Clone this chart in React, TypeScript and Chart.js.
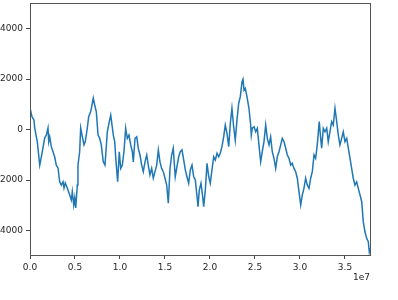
import React, { useEffect, useRef } from "react";
import { Chart, registerables } from "chart.js";

Chart.register(...registerables);

// x in units of 1e7 steps
const xs = [
  0.0, 0.022, 0.044, 0.052, 0.081, 0.108, 0.126, 0.144, 0.163, 0.181,
  0.2, 0.208, 0.219, 0.237, 0.256, 0.274, 0.292, 0.311, 0.33, 0.348,
  0.367, 0.378, 0.392, 0.414, 0.441, 0.459, 0.47, 0.486, 0.497, 0.508,
  0.526, 0.533, 0.552, 0.563, 0.578, 0.6, 0.614, 0.637, 0.652, 0.674,
  0.689, 0.703, 0.719, 0.737, 0.756, 0.774, 0.792, 0.814, 0.833, 0.844,
  0.859, 0.881, 0.897, 0.911, 0.926, 0.941, 0.956, 0.974, 0.992, 1.008,
  1.026, 1.044, 1.063, 1.081, 1.1, 1.119, 1.137, 1.148, 1.167, 1.186,
  1.203, 1.222, 1.241, 1.259, 1.278, 1.297, 1.314, 1.333, 1.352, 1.37,
  1.389, 1.408, 1.426, 1.444, 1.463, 1.481, 1.5, 1.519, 1.537, 1.556,
  1.574, 1.592, 1.614, 1.633, 1.652, 1.67, 1.689, 1.708, 1.726, 1.744,
  1.763, 1.781, 1.8, 1.819, 1.837, 1.856, 1.867, 1.881, 1.9, 1.919,
  1.93, 1.948, 1.967, 1.986, 2.003, 2.022, 2.041, 2.059, 2.078, 2.097,
  2.114, 2.133, 2.152, 2.17, 2.189, 2.208, 2.226, 2.244, 2.263, 2.281,
  2.3, 2.319, 2.337, 2.356, 2.367, 2.378, 2.392, 2.411, 2.433, 2.452,
  2.459, 2.47, 2.489, 2.508, 2.526, 2.544, 2.563, 2.581, 2.6, 2.619,
  2.637, 2.656, 2.674, 2.692, 2.711, 2.73, 2.748, 2.767, 2.786, 2.803,
  2.822, 2.841, 2.859, 2.878, 2.897, 2.914, 2.933, 2.952, 2.97, 2.989,
  3.008, 3.026, 3.044, 3.063, 3.081, 3.1, 3.119, 3.137, 3.156, 3.174,
  3.192, 3.214, 3.23, 3.241, 3.259, 3.278, 3.297, 3.314, 3.333, 3.352,
  3.37, 3.389, 3.408, 3.426, 3.444, 3.463, 3.481, 3.5, 3.519, 3.537,
  3.556, 3.574, 3.592, 3.611, 3.63, 3.648, 3.667, 3.686, 3.703, 3.722,
  3.741, 3.759, 3.77, 3.778,
];

const ys = [
  850, 510, 380, 60, -480, -1410, -1080, -730, -340, -220,
  60, -480, -290, -680, -880, -1080, -1410, -1520, -2070, -2200,
  -2070, -2320, -2120, -2320, -2590, -2790, -2460, -2990, -2710, -3110,
  -2200, -1410, -880, 60, -220, -610, -480, 60, 510, 700,
  970, 1240, 970, 700, -220, -340, -610, -1280, -1410, -880,
  -90, 310, 570, 180, -220, -480, -1280, -2070, -880, -1540,
  -1410, -880, 50, -350, -220, -610, -880, -1280, -350, -290,
  -740, -1010, -1410, -1670, -1280, -1010, -1410, -1800, -1540, -1930,
  -1670, -1410, -810, -1280, -1540, -1670, -1930, -2200, -2920, -1540,
  -1010, -740, -1870, -1470, -1080, -880, -810, -1210, -1600, -1870,
  -2130, -1600, -1410, -1870, -2000, -2660, -3060, -2400, -2130, -2660,
  -3060, -2400, -1340, -1870, -2130, -1600, -1080, -1210, -940, -1080,
  -940, -680, -290, 180, -150, -680, 250, 840, 110, -420,
  380, 1040, 1300, 1890, 1990, 1560, 1630, 1300, 840, 180,
  -220, 50, 110, -90, 50, -610, -1280, -880, -480, 180,
  -350, -610, -290, -880, -1140, -1540, -1080, -880, -610, -350,
  -480, -740, -1010, -1140, -1410, -1340, -1540, -1670, -1930, -2460,
  -2990, -2590, -2330, -1930, -2200, -2330, -1930, -1670, -1010, -1140,
  -610, 310, -350, -740, 50, -90, 50, -480, -90, 310,
  180, 840, 310, -220, -610, -350, -90, -480, -350, -740,
  -1140, -1540, -1930, -2200, -2070, -2330, -2590, -2860, -3650, -4050,
  -4310, -4440, -4840, -4690,
];

const xTicks = [0.0, 0.5, 1.0, 1.5, 2.0, 2.5, 3.0, 3.5];
const yTicks = [-4000, -2000, 0, 2000, 4000];
const xOffsetLabel = "1e7";

const X_MIN = 0;
const X_MAX = 3.778;
const Y_MIN = -4970;
const Y_MAX = 5010;

const FONT = "'DejaVu Sans', sans-serif";

const framePlugin = {
  id: "frameAndOffset",
  afterDraw(chart: any) {
    const { ctx, chartArea } = chart;
    ctx.save();
    ctx.strokeStyle = "#555";
    ctx.lineWidth = 1;
    ctx.strokeRect(
      Math.round(chartArea.left) + 0.5,
      Math.round(chartArea.top) + 0.5,
      Math.round(chartArea.right - chartArea.left),
      Math.round(chartArea.bottom - chartArea.top)
    );
    ctx.fillStyle = "#262626";
    ctx.font = `9px ${FONT}`;
    ctx.textAlign = "right";
    ctx.textBaseline = "middle";
    ctx.fillText(xOffsetLabel, chartArea.right, chartArea.bottom + 23);
    ctx.restore();
  },
};

export default function App() {
  const ref = useRef<HTMLCanvasElement | null>(null);
  useEffect(() => {
    if (!ref.current) return;
    const data = xs.map((x, i) => ({ x, y: ys[i] }));
    const chart = new Chart(ref.current, {
      type: "line",
      data: {
        datasets: [
          {
            data,
            borderColor: "#1f77b4",
            borderWidth: 1.5,
            pointRadius: 0,
            tension: 0,
            fill: false,
          },
        ],
      },
      options: {
        animation: false,
        responsive: false,
        maintainAspectRatio: false,
        layout: { padding: { left: 0, right: 28, top: 3, bottom: 0 } },
        plugins: { legend: { display: false }, tooltip: { enabled: false } },
        scales: {
          x: {
            type: "linear",
            min: X_MIN,
            max: X_MAX,
            afterFit: (s: any) => {
              s.height = 45;
              s.paddingLeft = 0;
              s.paddingRight = 0;
            },
            afterBuildTicks: (s: any) => {
              s.ticks = xTicks.map((v) => ({ value: v }));
            },
            ticks: {
              includeBounds: false,
              padding: 3,
              maxRotation: 0,
              autoSkip: false,
              color: "#262626",
              font: { family: FONT, size: 9 },
              callback: (v: any) => Number(v).toFixed(1),
            },
            grid: {
              drawOnChartArea: false,
              drawTicks: true,
              tickLength: 4,
              tickColor: "#444",
            },
            border: { display: true, color: "#555", width: 1 },
          },
          y: {
            type: "linear",
            min: Y_MIN,
            max: Y_MAX,
            afterFit: (s: any) => {
              s.width = 50;
              s.paddingTop = 0;
              s.paddingBottom = 0;
            },
            afterBuildTicks: (s: any) => {
              s.ticks = yTicks.map((v) => ({ value: v }));
            },
            ticks: {
              includeBounds: false,
              padding: 3,
              autoSkip: false,
              color: "#262626",
              font: { family: FONT, size: 9 },
              callback: (v: any) =>
                Number(v) < 0 ? "\u2212" + Math.abs(Number(v)) : String(v),
            },
            grid: {
              drawOnChartArea: false,
              drawTicks: true,
              tickLength: 4,
              tickColor: "#444",
            },
            border: { display: true, color: "#555", width: 1 },
          },
        },
      },
      plugins: [framePlugin],
    });
    return () => chart.destroy();
  }, []);

  return (
    <div
      style={{
        position: "fixed",
        left: -20,
        top: 0,
        width: 418,
        height: 300,
        background: "#fff",
      }}
    >
      <canvas ref={ref} width={418} height={300} style={{ display: "block" }} />
    </div>
  );
}
